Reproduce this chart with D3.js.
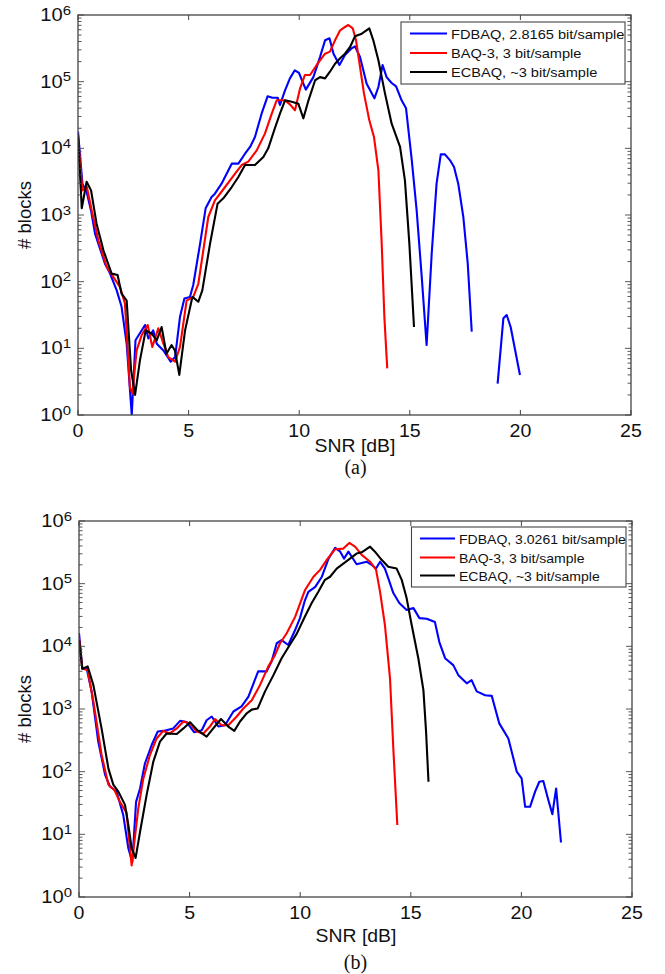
<!DOCTYPE html>
<html><head><meta charset="utf-8">
<script src="https://cdn.jsdelivr.net/npm/d3@7"></script>
<style>body{margin:0;background:#fff}svg{display:block}</style>
</head><body><svg id="c" width="665" height="974"></svg>
<script>
// ---------------- DATA ----------------
const xTickValues = [0, 5, 10, 15, 20, 25];
const yTickExponents = [0, 1, 2, 3, 4, 5, 6];
const xLabel = "SNR [dB]";
const yLabel = "# blocks";

// Panel (a)
const aFdbaqSnr = [0,0.2,0.39,0.6,0.77,1.22,1.45,1.75,1.97,2.2,2.43,2.6,3.03,3.18,3.4,3.56,3.86,4.19,4.39,4.61,4.81,5.06,5.21,5.52,5.77,6.04,6.19,6.49,6.95,7.25,7.55,7.78,8.0,8.3,8.57,8.79,9.03,9.13,9.36,9.58,9.8,9.99,10.3,10.64,10.94,11.17,11.37,11.55,11.82,12.07,12.37,12.52,12.75,13.05,13.4,13.58,13.77,13.95,14.18,14.38,14.63,14.83,15.09,15.31,15.54,15.76,15.99,16.21,16.4,16.59,16.82,17.0,17.19,17.42,17.62,17.8,18.4,18.97,19.23,19.38,19.56,19.98];
const aFdbaqBlocks = [17800,2950,2240,1120,525,186,132,74,42,11.7,1,13.2,22.4,14.1,18.6,11.7,9.3,6.3,7.4,29.5,56,59,89,372,1260,1860,2090,2950,5890,5890,8300,10500,14800,33100,60300,57500,57500,44700,74100,112000,148000,135000,75900,117000,234000,417000,447000,263000,178000,251000,316000,339000,234000,93300,56200,83200,178000,117000,95500,85100,52500,39800,6610,1170,117,11.2,263,2950,8130,8130,6610,5250,2950,933,186,17.8,null,2.95,28.2,31.6,20.9,3.98];

const aBaqSnr = [0,0.2,0.4,0.62,0.92,1.3,1.6,1.9,2.12,2.35,2.46,2.65,2.88,3.15,3.36,3.63,3.81,4.08,4.39,4.61,4.91,5.21,5.44,5.89,6.19,6.65,7.1,7.4,7.7,8.08,8.45,8.76,8.98,9.36,9.58,9.81,10.04,10.26,10.49,10.79,11.17,11.39,11.62,11.85,12.07,12.22,12.42,12.57,12.75,12.93,13.17,13.38,13.58,13.73,13.85,13.98];
const aBaqBlocks = [14800,2340,2630,1170,417,166,117,83,47,2.6,2.1,9.3,15.8,22.4,10.5,20,13.2,7.4,6.3,10.5,52,59,93,933,1660,2630,4170,5620,6310,9330,16600,33100,52500,52500,45700,37200,79400,126000,126000,178000,263000,282000,417000,589000,661000,708000,631000,417000,166000,66100,26300,14800,4680,372,29.5,5.0];

const aEcbaqSnr = [0,0.17,0.39,0.59,0.84,1.15,1.52,1.79,1.97,2.2,2.4,2.58,2.8,3.06,3.33,3.56,3.78,4.0,4.23,4.38,4.58,4.84,5.17,5.44,5.62,5.97,6.31,6.57,6.95,7.25,7.55,8.0,8.38,8.6,8.9,9.13,9.36,9.66,9.96,10.19,10.42,10.72,10.94,11.17,11.39,11.62,11.85,12.07,12.3,12.52,12.83,13.17,13.35,13.58,13.88,14.18,14.56,14.78,14.98,15.19];
const aEcbaqBlocks = [15800,1260,3160,2340,741,295,132,126,66,52,4.7,2.0,6.6,18.6,16.6,13.2,20.9,8.3,11.2,9.3,4.0,18.6,59,50,74,372,1480,1780,2630,3720,5620,5620,7410,10000,20000,33100,52500,50100,46800,28200,52500,105000,117000,112000,141000,186000,224000,263000,331000,479000,525000,631000,417000,209000,66100,23400,10500,3310,372,20.9];

// Panel (b)
const bFdbaqSnr = [0,0.15,0.35,0.57,0.87,1.18,1.4,1.7,2.0,2.23,2.41,2.58,2.76,2.98,3.29,3.56,3.81,4.26,4.57,4.87,5.2,5.55,5.77,6.0,6.3,6.6,6.98,7.35,7.66,8.1,8.48,8.71,8.94,9.16,9.46,9.77,9.99,10.2,10.37,10.68,10.98,11.28,11.58,11.81,11.98,12.18,12.33,12.55,12.78,13.0,13.23,13.43,13.61,13.83,13.98,14.21,14.48,14.81,15.12,15.39,15.72,16.09,16.29,16.55,16.92,17.15,17.53,17.75,17.98,18.36,18.66,19.0,19.41,19.64,19.79,20.01,20.17,20.39,20.62,20.81,20.99,21.22,21.4,21.57,21.79];
const bFdbaqBlocks = [16200,4470,4370,1910,302,89,58,48,20.4,6.0,3.6,33,54,135,269,437,447,490,646,617,427,457,661,759,525,550,912,1100,1580,3980,3980,5750,11200,12600,10500,18200,28200,52500,74100,89100,129000,251000,372000,324000,251000,324000,269000,204000,214000,224000,200000,174000,224000,174000,123000,70800,49000,38000,40700,28200,27500,24500,11700,6460,5010,3470,2570,2880,1910,1660,1620,589,339,162,100,78,27.5,27.5,48,69,71,35,21,54,7.4];

const bBaqSnr = [0,0.15,0.39,0.65,1.02,1.33,1.6,1.85,2.15,2.38,2.68,2.91,3.21,3.51,3.81,4.11,4.42,4.72,5.02,5.32,5.62,5.92,6.15,6.45,6.75,7.13,7.43,7.81,8.18,8.56,8.86,9.09,9.39,9.77,10.22,10.6,10.9,11.2,11.58,11.95,12.22,12.48,12.78,13.16,13.43,13.61,13.83,14.06,14.21,14.39];
const bBaqBlocks = [13500,4470,4170,1320,186,62,51,33,22,3.2,26,78,186,339,447,407,490,631,589,437,407,525,692,550,550,759,1020,1380,2400,4790,7240,11200,16200,29500,79400,129000,166000,240000,355000,363000,447000,389000,288000,224000,166000,74100,21900,3090,234,14.1];

const bEcbaqSnr = [0,0.15,0.39,0.65,1.02,1.33,1.55,1.78,2.08,2.23,2.38,2.56,2.76,3.06,3.36,3.66,3.96,4.42,4.72,5.02,5.39,5.77,6.07,6.42,6.75,7.02,7.28,7.58,7.81,8.08,8.41,8.79,9.16,9.54,9.84,10.22,10.52,10.82,11.12,11.35,11.65,11.95,12.25,12.55,12.78,13.16,13.38,13.68,13.98,14.36,14.59,14.81,15.04,15.34,15.57,15.69,15.8];
const bEcbaqBlocks = [12600,4370,4790,2400,490,112,62,48,29.5,14.1,6.0,4.2,11,43,145,302,407,398,490,617,447,363,490,692,525,447,631,851,977,1020,1910,3470,6460,10700,15800,30200,49000,74100,115000,129000,174000,209000,251000,302000,316000,389000,324000,240000,186000,174000,115000,58900,21900,6460,2000,437,69];

const aLegend = ["FDBAQ, 2.8165 bit/sample", "BAQ-3, 3 bit/sample", "ECBAQ, ~3 bit/sample"];
const bLegend = ["FDBAQ, 3.0261 bit/sample", "BAQ-3, 3 bit/sample", "ECBAQ, ~3 bit/sample"];
const seriesColors = ["#0000ff", "#ff0000", "#000000"];

// ---------------- DRAW ----------------
const svg = d3.select('#c');
const FONT = "'Liberation Sans', Arial, Helvetica, sans-serif";
const AXC = "#444";

function txt(parent, x, y, s, size, anchor, sx, family) {
  return parent.append('text')
    .attr('transform', `translate(${x},${y}) scale(${sx},1)`)
    .attr('text-anchor', anchor)
    .attr('font-size', size)
    .attr('font-family', family || FONT)
    .attr('fill', '#111')
    .text(s);
}

function drawPanel(p) {
  const x = d3.scaleLinear().domain([0, 25]).range([p.left, p.right]);
  const y = d3.scaleLog().domain([1, 1e6]).range([p.bottom, p.top]);
  const g = svg.append('g');
  const clipId = 'clip' + p.id;
  svg.append('clipPath').attr('id', clipId).append('rect')
    .attr('x', p.left).attr('y', p.top - 1)
    .attr('width', p.right - p.left).attr('height', p.bottom - p.top + 1);

  const line = d3.line().defined(d => d.v != null).x(d => x(d.s)).y(d => y(d.v));
  p.series.forEach((s, i) => {
    const pts = s.snr.map((v, k) => ({ s: v, v: s.blocks[k] }));
    g.append('path').attr('d', line(pts))
      .attr('fill', 'none').attr('stroke', seriesColors[i])
      .attr('stroke-width', 2.1).attr('stroke-linejoin', 'round')
      .attr('clip-path', `url(#${clipId})`);
  });

  // box
  g.append('rect').attr('x', p.left).attr('y', p.top)
    .attr('width', p.right - p.left).attr('height', p.bottom - p.top)
    .attr('fill', 'none').attr('stroke', AXC).attr('stroke-width', 1.3);

  // x ticks
  xTickValues.forEach(t => {
    const xx = x(t);
    g.append('line').attr('x1', xx).attr('x2', xx).attr('y1', p.bottom).attr('y2', p.bottom - 5).attr('stroke', AXC);
    g.append('line').attr('x1', xx).attr('x2', xx).attr('y1', p.top).attr('y2', p.top + 5).attr('stroke', AXC);
    txt(g, xx, p.bottom + 22, String(t), 17.5, 'middle', 1.12);
  });

  // y ticks (major + minor)
  y.ticks().forEach(t => {
    const yy = y(t);
    const lg = Math.log10(t);
    const major = Math.abs(lg - Math.round(lg)) < 1e-9;
    const len = major ? 6 : 3.5;
    g.append('line').attr('x1', p.left).attr('x2', p.left + len).attr('y1', yy).attr('y2', yy).attr('stroke', AXC).attr('stroke-width', 0.9);
    g.append('line').attr('x1', p.right).attr('x2', p.right - len).attr('y1', yy).attr('y2', yy).attr('stroke', AXC).attr('stroke-width', 0.9);
  });
  yTickExponents.forEach(e => {
    const yy = y(Math.pow(10, e));
    const t = g.append('text')
      .attr('transform', `translate(${p.left - 7},${yy + 6}) scale(1.15,1)`)
      .attr('text-anchor', 'end').attr('font-family', FONT).attr('fill', '#111');
    t.append('tspan').attr('font-size', 17.5).text('10');
    t.append('tspan').attr('font-size', 13).attr('dy', -6.5).text(String(e));
  });

  // labels
  txt(g, (p.left + p.right) / 2 + 0.5, p.xLabelY, xLabel, 18.5, 'middle', 1.05);
  g.append('text')
    .attr('transform', `translate(31,${(p.top + p.bottom) / 2}) rotate(-90)`)
    .attr('text-anchor', 'middle').attr('font-size', 18.5).attr('font-family', FONT).attr('fill', '#111')
    .text(yLabel);
  txt(g, 355.5, p.captionY, p.caption, 20, 'middle', 1.0, "'Liberation Serif', 'Times New Roman', serif");

  // legend
  const L = p.legend;
  const lg = g.append('g');
  lg.append('rect').attr('x', L.x0).attr('y', L.y0).attr('width', L.x1 - L.x0).attr('height', L.y1 - L.y0)
    .attr('fill', '#fff').attr('stroke', AXC).attr('stroke-width', 1.1);
  p.legendLabels.forEach((lab, i) => {
    const yy = L.rows[i];
    lg.append('line').attr('x1', L.lx0).attr('x2', L.lx1).attr('y1', yy).attr('y2', yy)
      .attr('stroke', seriesColors[i]).attr('stroke-width', 2.1);
    txt(lg, L.tx, yy + 5, lab, L.size, 'start', 1.08);
  });
}

drawPanel({
  id: 'a', left: 78, right: 631, top: 15, bottom: 415,
  xLabelY: 452, captionY: 474, caption: '(a)',
  series: [
    { snr: aFdbaqSnr, blocks: aFdbaqBlocks },
    { snr: aBaqSnr, blocks: aBaqBlocks },
    { snr: aEcbaqSnr, blocks: aEcbaqBlocks }
  ],
  legendLabels: aLegend,
  legend: { x0: 401, x1: 625, y0: 22, y1: 84, rows: [33.5, 53, 72], lx0: 410, lx1: 447, tx: 451, size: 13.5 }
});

drawPanel({
  id: 'b', left: 79, right: 632, top: 521, bottom: 897,
  xLabelY: 942, captionY: 969, caption: '(b)',
  series: [
    { snr: bFdbaqSnr, blocks: bFdbaqBlocks },
    { snr: bBaqSnr, blocks: bBaqBlocks },
    { snr: bEcbaqSnr, blocks: bEcbaqBlocks }
  ],
  legendLabels: bLegend,
  legend: { x0: 411.5, x1: 626, y0: 527, y1: 587, rows: [538.5, 557.5, 575.5], lx0: 420, lx1: 455, tx: 459, size: 13 }
});
</script>
</body></html>
